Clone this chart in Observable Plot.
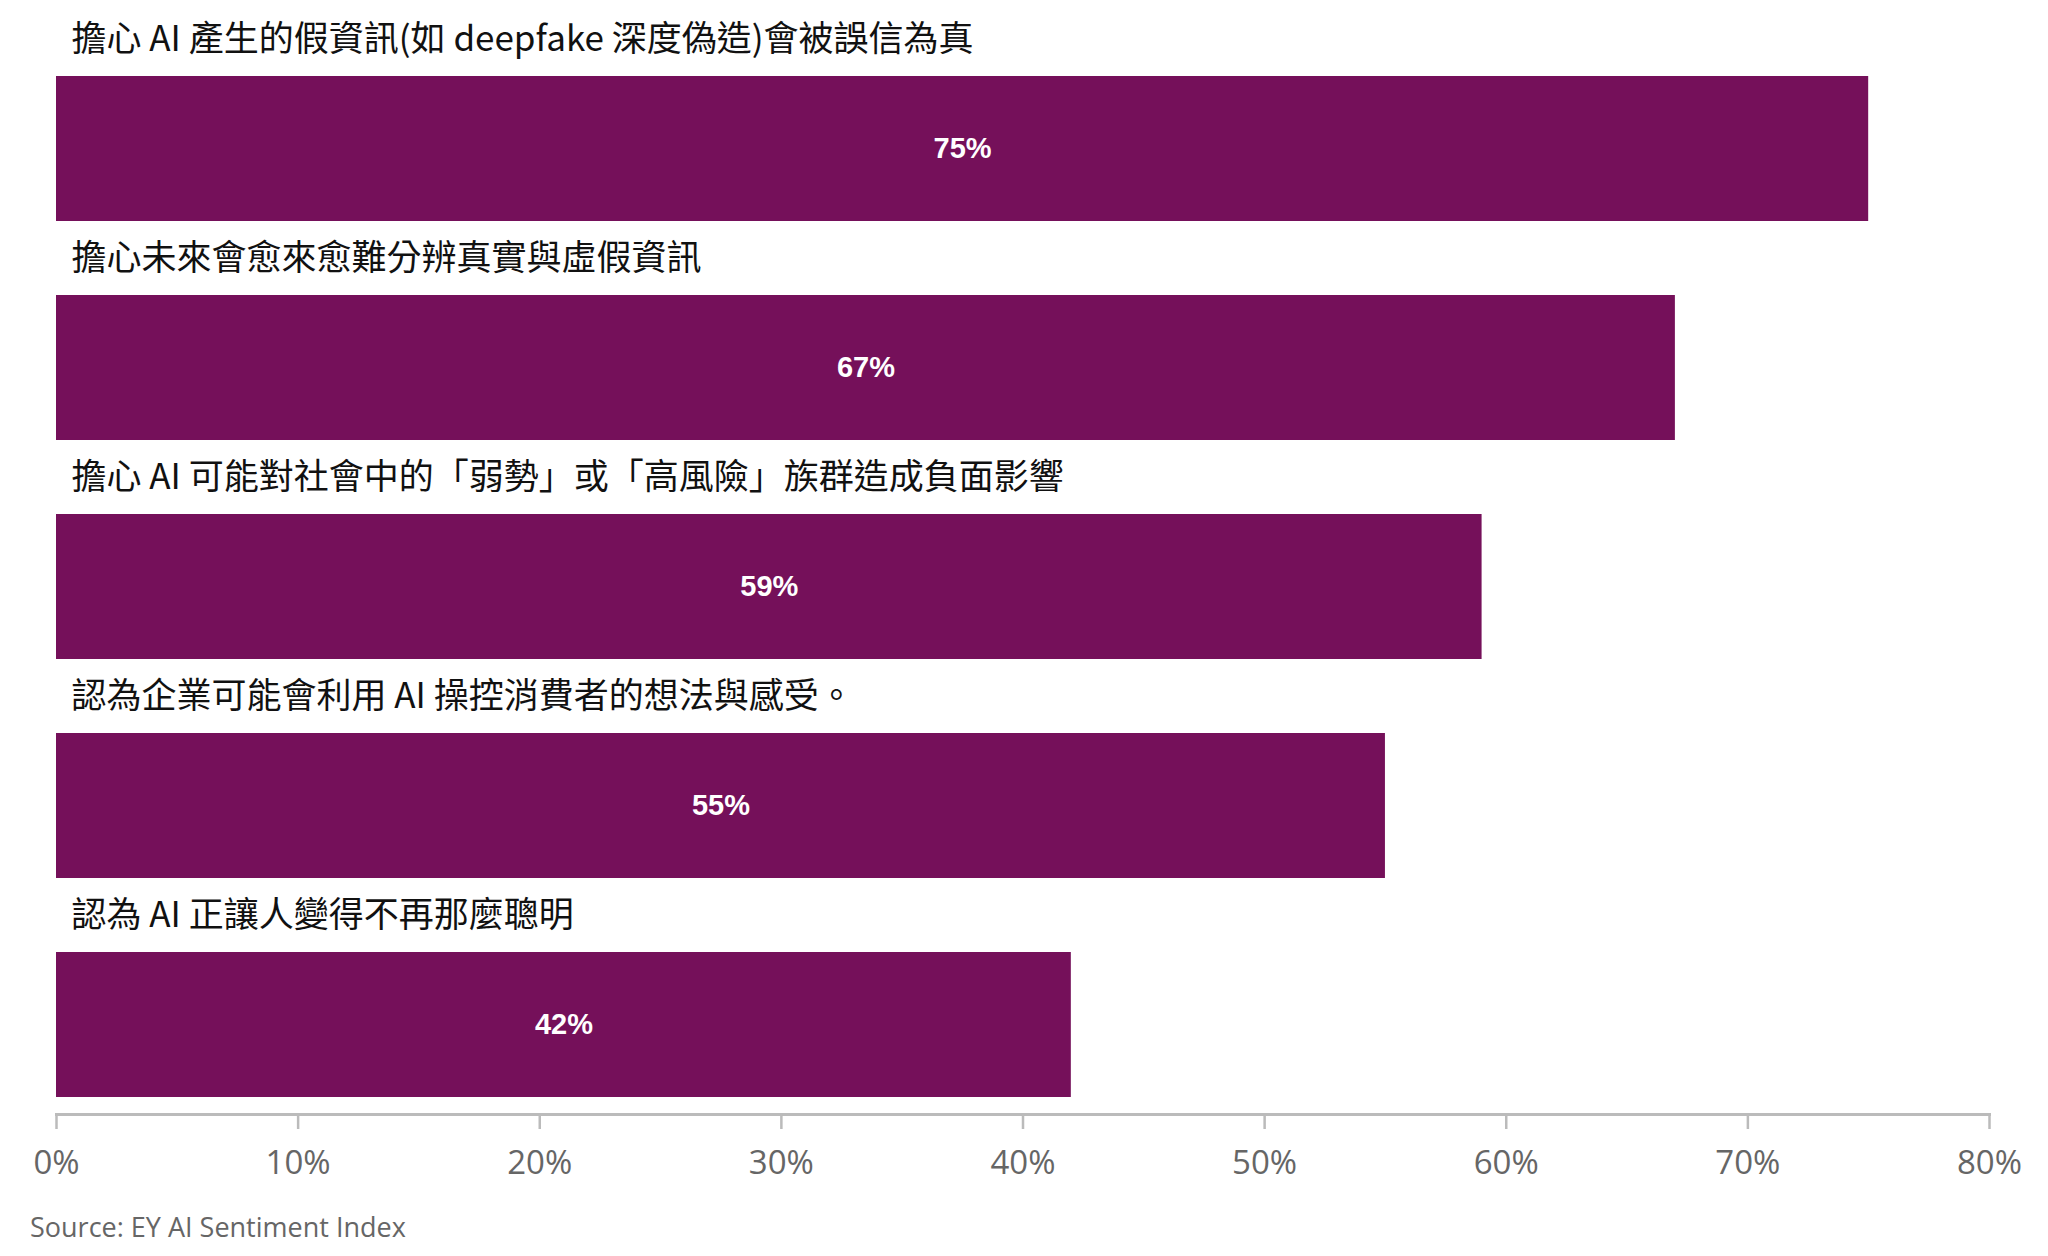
<!DOCTYPE html>
<html>
<head>
<meta charset="utf-8">
<script src="https://cdn.jsdelivr.net/npm/d3@7"></script>
<script src="https://cdn.jsdelivr.net/npm/@observablehq/plot@0.6"></script>
<style>
  html, body { margin: 0; padding: 0; background: #ffffff; }
  #chart { width: 2048px; }
  #source {
    font-family: "Open Sans", "DejaVu Sans", sans-serif;
    font-size: 27px;
    line-height: 30px;
    color: #666666;
    margin-top: 22px;
    padding-left: 30px;
  }
</style>
</head>
<body>
<div id="chart"></div>
<div id="source">Source: EY AI Sentiment Index</div>
<script>
const categories = [
  "擔心 AI 產生的假資訊(如 deepfake 深度偽造)會被誤信為真",
  "擔心未來會愈來愈難分辨真實與虛假資訊",
  "擔心 AI 可能對社會中的「弱勢」或「高風險」族群造成負面影響",
  "認為企業可能會利用 AI 操控消費者的想法與感受。",
  "認為 AI 正讓人變得不再那麼聰明"
];
const values = [75, 67, 59, 55, 42];
const xTicks = [0, 10, 20, 30, 40, 50, 60, 70, 80];

const data = categories.map((c, i) => ({category: c, value: values[i]}));

const purple = "#75105a";
const cjk = "'Noto Sans CJK TC', 'Noto Sans CJK SC', sans-serif";

const chart = Plot.plot({
  width: 2048,
  height: 1190,
  marginLeft: 56,
  marginRight: 59,
  marginTop: 0,
  marginBottom: 76,
  style: {background: "#ffffff", fontFamily: "'Open Sans', sans-serif"},
  x: {domain: [0, 80], axis: null},
  y: {domain: categories, axis: null, paddingInner: 0.336, paddingOuter: 0.2027, align: 0.82},
  marks: [
    Plot.barX(data, {x: "value", y: "category", fill: purple}),
    Plot.text(data, {
      x: d => d.value / 2, y: "category", text: d => d.value + "%",
      fill: "#ffffff", fontSize: 29, fontWeight: "bold",
      fontFamily: "'Liberation Sans', Arial, sans-serif"
    }),
    Plot.text(data, {
      x: () => 0, y: "category", text: "category",
      textAnchor: "start", dx: 15, dy: -109,
      fill: "#111111", fontSize: 35, fontFamily: cjk
    }),
    Plot.frame({anchor: "bottom", stroke: "#bbbbbb", strokeWidth: 3}),
    Plot.axisX({
      ticks: xTicks, tickFormat: d => d + "%", label: null,
      tickSize: 15, tickPadding: 21,
      stroke: "#bbbbbb", strokeWidth: 2.5,
      fill: "#666666", fontSize: 33,
      fontFamily: "'Open Sans', sans-serif"
    })
  ]
});
document.getElementById("chart").appendChild(chart);
</script>
</body>
</html>
